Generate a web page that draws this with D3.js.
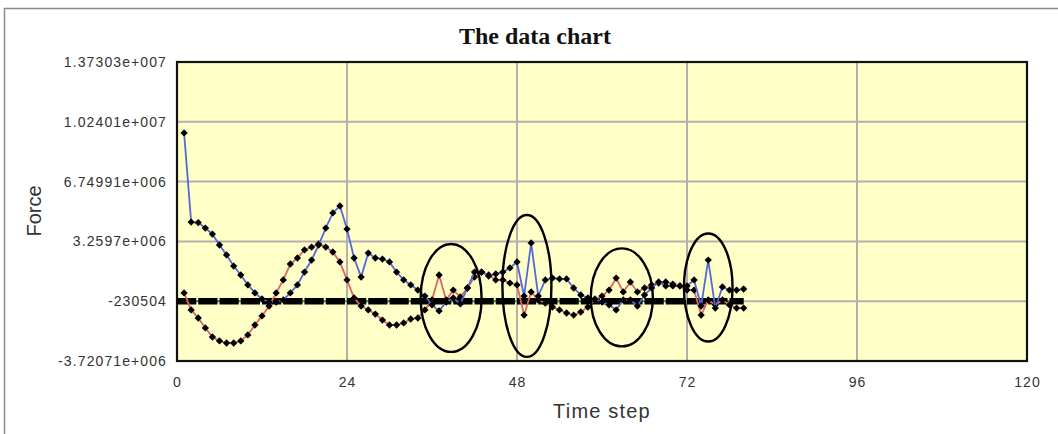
<!DOCTYPE html>
<html>
<head>
<meta charset="utf-8">
<script src="https://cdn.jsdelivr.net/npm/d3@7"></script>
<style>
  html, body { margin: 0; padding: 0; background: #ffffff; }
  svg { display: block; }
</style>
</head>
<body>
<svg id="chart" width="1058" height="434"></svg>
<script>
// Force per time step, in units of 1e6
const timeSteps = d3.range(1, 81);
const forceBlue = [
  9.59, 4.39, 4.36, 4.04, 3.69, 3.05, 2.47, 1.82, 1.30, 0.72,
  0.25, -0.10, -0.28, -0.28, -0.16, 0.25, 0.72, 1.47, 2.17, 3.05,
  4.04, 4.92, 5.33, 3.98, 2.29, 1.18, 2.58, 2.29, 2.23, 2.06,
  1.47, 1.01, 0.72, 0.42, 0.07, -0.45, -0.80, -0.28, -0.04, -0.39,
  0.54, 1.47, 1.47, 1.24, 1.36, 1.47, 1.71, 2.06, 0.07, 3.17,
  0.07, 1.01, 1.12, 1.07, 1.07, 0.54, 0.13, -0.04, -0.10, -0.28,
  -0.45, -0.74, -0.16, -0.16, -0.51, 0.13, 0.54, 0.89, 0.66, 0.66,
  0.66, 0.66, 1.01, -0.51, 2.17, -0.63, 0.60, 0.42, 0.42, 0.48
];
const forceRed = [
  0.25, -0.74, -1.21, -1.79, -2.32, -2.55, -2.67, -2.67, -2.55, -2.20,
  -1.62, -1.09, -0.51, 0.25, 1.01, 1.94, 2.29, 2.76, 2.93, 3.11,
  2.93, 2.64, 2.06, 1.01, -0.04, -0.51, -0.74, -0.98, -1.33, -1.62,
  -1.62, -1.50, -1.27, -1.21, -0.74, -0.16, 1.30, -0.16, 0.42, 0.02,
  0.54, 1.18, 1.47, 1.30, 1.01, 1.01, 0.83, 0.72, -1.04, 0.31,
  -0.16, -0.34, -0.57, -0.74, -0.92, -1.04, -0.86, -0.57, -0.16, 0.07,
  0.42, 1.12, 0.31, 0.89, 0.31, 0.54, 0.72, 0.83, 0.89, 0.77,
  0.66, 0.42, 0.42, -1.04, -0.16, -0.45, -0.16, -0.45, -0.63, -0.63
];
// Reference level drawn as a constant line
const baseLevel = -230504;
const baseSteps = d3.range(0, 81);

// Axis ticks
const yTickValues = [-3720710, -230504, 3259700, 6749910, 10240100, 13730300];
const yTickLabels = ["-3.72071e+006", "-230504", "3.2597e+006", "6.74991e+006", "1.02401e+007", "1.37303e+007"];
const xTickValues = [0, 24, 48, 72, 96, 120];

// Highlighted regions: centre step, centre force (1e6), half-width (steps), half-height (1e6)
const regionT = [38.7, 49.4, 62.8, 75.0];
const regionF = [-0.04, 0.66, -0.01, 0.57];
const regionRT = [4.3, 3.46, 4.38, 3.43];
const regionRF = [3.15, 4.14, 2.86, 3.15];

const svg = d3.select("#chart");
const W = 1058, H = 434;
const plot = { left: 177, top: 62, right: 1027, bottom: 361 };

const x = d3.scaleLinear().domain([0, 120]).range([plot.left, plot.right]);
const y = d3.scaleLinear().domain([-3720710, 13730300]).range([plot.bottom, plot.top]);

// Outer frame
svg.append("rect")
  .attr("x", 4.5).attr("y", 8.5).attr("width", W + 10).attr("height", H - 7)
  .attr("fill", "#ffffff").attr("stroke", "#8c8c8c").attr("stroke-width", 1.5);

// Title
svg.append("text")
  .attr("x", 535).attr("y", 44)
  .attr("text-anchor", "middle")
  .attr("font-family", "Liberation Serif, Times New Roman, serif")
  .attr("font-weight", "bold")
  .attr("font-size", 24)
  .attr("fill", "#111")
  .text("The data chart");

// Plot background
svg.append("rect")
  .attr("x", plot.left).attr("y", plot.top)
  .attr("width", plot.right - plot.left).attr("height", plot.bottom - plot.top)
  .attr("fill", "#ffffc8");

// Grid lines
const grid = svg.append("g").attr("stroke", "#b8adad").attr("stroke-width", 2);
grid.selectAll("line.h").data(yTickValues.slice(1, -1)).join("line")
  .attr("class", "h")
  .attr("x1", plot.left).attr("x2", plot.right)
  .attr("y1", d => y(d)).attr("y2", d => y(d));
grid.selectAll("line.v").data(xTickValues.slice(1, -1)).join("line")
  .attr("class", "v")
  .attr("y1", plot.top).attr("y2", plot.bottom)
  .attr("x1", d => x(d)).attr("x2", d => x(d));

// Plot border
svg.append("rect")
  .attr("x", plot.left).attr("y", plot.top)
  .attr("width", plot.right - plot.left).attr("height", plot.bottom - plot.top)
  .attr("fill", "none").attr("stroke", "#111").attr("stroke-width", 2.2);

// Axes
const yAxis = d3.axisLeft(y).tickValues(yTickValues)
  .tickFormat((d, i) => yTickLabels[i]).tickSize(0).tickPadding(10);
const gy = svg.append("g").attr("transform", `translate(${plot.left},0)`).call(yAxis);
gy.select(".domain").remove();
gy.selectAll("text")
  .attr("font-family", "Liberation Sans, Arial, sans-serif")
  .attr("font-size", 14)
  .attr("letter-spacing", "1.1px")
  .attr("fill", "#333");

const xAxis = d3.axisBottom(x).tickValues(xTickValues).tickSize(0).tickPadding(16);
const gx = svg.append("g").attr("transform", `translate(0,${plot.bottom})`).call(xAxis);
gx.select(".domain").remove();
gx.selectAll("text")
  .attr("font-family", "Liberation Sans, Arial, sans-serif")
  .attr("font-size", 14)
  .attr("letter-spacing", "1px")
  .attr("fill", "#333");

// Axis titles
svg.append("text")
  .attr("x", 602).attr("y", 418)
  .attr("text-anchor", "middle")
  .attr("font-family", "Liberation Sans, Arial, sans-serif")
  .attr("font-size", 20)
  .attr("letter-spacing", "1.2px")
  .attr("fill", "#333")
  .text("Time step");
svg.append("text")
  .attr("transform", "translate(41,211) rotate(-90)")
  .attr("text-anchor", "middle")
  .attr("font-family", "Liberation Sans, Arial, sans-serif")
  .attr("font-size", 20)
  .attr("fill", "#333")
  .text("Force");

// Constant reference line: green core under a thick dashed black band
const period = x(3) - x(0);
const baseLine = d3.line().x(d => x(d)).y(() => y(baseLevel));
svg.append("path").datum(baseSteps)
  .attr("d", baseLine).attr("fill", "none")
  .attr("stroke", "#3a9a3a").attr("stroke-width", 2);
svg.append("path").datum(baseSteps)
  .attr("d", baseLine).attr("fill", "none")
  .attr("stroke", "#000").attr("stroke-width", 6.5)
  .attr("stroke-dasharray", `${period - 2},2`);

// Force series
function drawSeries(values, color) {
  const pts = timeSteps.map((t, i) => [t, values[i] * 1e6]);
  svg.append("path").datum(pts)
    .attr("d", d3.line().x(d => x(d[0])).y(d => y(d[1])))
    .attr("fill", "none").attr("stroke", color).attr("stroke-width", 1.8);
  svg.append("g").selectAll("path").data(pts).join("path")
    .attr("d", d3.symbol().type(d3.symbolDiamond2).size(34))
    .attr("transform", d => `translate(${x(d[0])},${y(d[1])})`)
    .attr("fill", "#000");
}
drawSeries(forceRed, "#e06464");
drawSeries(forceBlue, "#5468dc");

// Highlighted regions
svg.append("g").selectAll("ellipse").data(regionT).join("ellipse")
  .attr("cx", d => x(d))
  .attr("cy", (d, i) => y(regionF[i] * 1e6))
  .attr("rx", (d, i) => x(regionRT[i]) - x(0))
  .attr("ry", (d, i) => y(0) - y(regionRF[i] * 1e6))
  .attr("fill", "none").attr("stroke", "#000").attr("stroke-width", 2.4);
</script>
</body>
</html>
